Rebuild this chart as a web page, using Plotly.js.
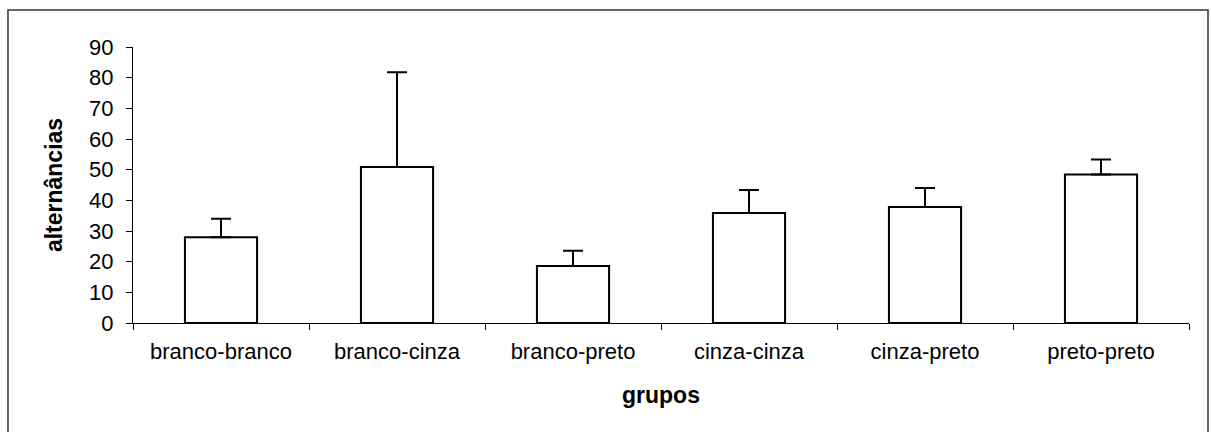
<!DOCTYPE html>
<html>
<head>
<meta charset="utf-8">
<script src="https://cdn.plot.ly/plotly-3.0.1.min.js"></script>
<style>
  html, body { margin: 0; padding: 0; background: #ffffff; }
  #chart { width: 1211px; height: 432px; }
</style>
</head>
<body>
<div id="chart"></div>
<script>
// Data
const categories = ["branco-branco", "branco-cinza", "branco-preto", "cinza-cinza", "cinza-preto", "preto-preto"];
const means = [28, 50.9, 18.6, 35.9, 37.8, 48.4];
const errorsPlus = [6, 30.9, 5, 7.5, 6.2, 4.9];
const errorsMinus = [0, 0, 0, 0, 0, 0];
const yTickValues = [0, 10, 20, 30, 40, 50, 60, 70, 80, 90];
const xTitle = "grupos";
const yTitle = "alternâncias";

const fontFamily = "Liberation Sans, Arial, sans-serif";

const trace = {
  type: "bar",
  x: categories,
  y: means,
  marker: { color: "#ffffff", line: { color: "#000000", width: 2 } },
  error_y: {
    type: "data",
    symmetric: false,
    array: errorsPlus,
    arrayminus: errorsMinus,
    color: "#000000",
    thickness: 2,
    width: 10
  },
  hoverinfo: "x+y"
};

const layout = {
  width: 1211,
  height: 432,
  margin: { l: 133, r: 22, t: 47, b: 109 },
  paper_bgcolor: "#ffffff",
  plot_bgcolor: "#ffffff",
  showlegend: false,
  bargap: 0.59,
  font: { family: fontFamily, color: "#000000", size: 22 },
  xaxis: {
    type: "category",
    tickson: "boundaries",
    ticks: "outside",
    ticklen: 6,
    tickwidth: 1,
    tickcolor: "#000000",
    showline: true,
    linecolor: "#000000",
    linewidth: 1,
    showgrid: false,
    zeroline: false,
    ticklabelstandoff: 9,
    tickfont: { family: fontFamily, size: 22, color: "#000000" },
    automargin: true,
    title: { text: xTitle, standoff: 23, font: { family: fontFamily, size: 23, color: "#000000", weight: "bold" } }
  },
  yaxis: {
    range: [0, 90],
    tickvals: yTickValues,
    ticktext: yTickValues.map(String),
    ticks: "outside",
    ticklen: 6,
    tickwidth: 1,
    tickcolor: "#000000",
    showline: true,
    linecolor: "#000000",
    linewidth: 1,
    showgrid: false,
    zeroline: false,
    ticklabelstandoff: 8,
    tickfont: { family: fontFamily, size: 22, color: "#000000" },
    automargin: true,
    title: { text: yTitle, standoff: 20, font: { family: fontFamily, size: 23, color: "#000000", weight: "bold" } }
  },
  shapes: [
    {
      type: "rect", xref: "paper", yref: "paper",
      x0: -0.1184, x1: 1.018, y0: -0.45, y1: 1.134,
      line: { color: "#333333", width: 1.5 },
      fillcolor: "rgba(0,0,0,0)",
      layer: "below"
    }
  ]
};

Plotly.newPlot("chart", [trace], layout, { displayModeBar: false, staticPlot: true });
</script>
</body>
</html>
